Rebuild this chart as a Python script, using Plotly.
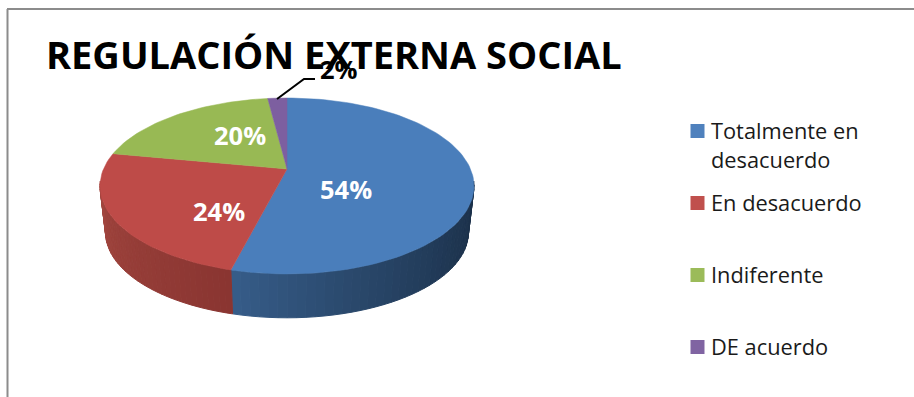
import math
import plotly.graph_objects as go

# Chart data
categories = ["Totalmente en desacuerdo", "En desacuerdo", "Indiferente", "DE acuerdo"]
legend_lines = [["Totalmente en", "desacuerdo"], ["En desacuerdo"], ["Indiferente"], ["DE acuerdo"]]
values = [54, 24, 20, 2]
labels = ["54%", "24%", "20%", "2%"]
colors = ["#4a7ebb", "#be4b48", "#98b954", "#7d5fa0"]
swatches = ["#4f81bd", "#c0504d", "#9bbb59", "#8064a2"]

# Perspective disc: a circle seen from above, projected to canvas pixels
CX, CY, AX, BY, K = 287.0, 169.0, 183.5, 84.7, 0.193
LOW_CY, LOW_SCALE = 216.0, 0.97


def project(theta, cy=CY, scale=1.0):
    u, v = math.sin(theta), math.cos(theta)
    d = 1 + K * v
    return CX + scale * AX * u / d, cy - scale * BY * v / d


def hex_rgb(h):
    return [int(h[i:i + 2], 16) for i in (1, 3, 5)]


def mix(c1, c2, f):
    a, b = hex_rgb(c1), hex_rgb(c2)
    return "rgb(%d,%d,%d)" % tuple(round(a[i] + (b[i] - a[i]) * f) for i in range(3))


fig = go.Figure()

total = sum(values)
fractions = [v / total for v in values]
edges = [0.0]
for f in fractions:
    edges.append(edges[-1] + f * 2 * math.pi)

# Side wall, drawn as thin shaded quads along the front of the disc.
# Shades run left to right on screen, so the blue wall darkens towards the right.
wall_shades = [("#1b3049", "#365c88"), ("#8a3531", "#a2463f")]
VISIBLE_FROM, VISIBLE_TO = math.radians(98), math.radians(262)
for i, (start_col, end_col) in enumerate(wall_shades):
    start = max(edges[i], VISIBLE_FROM)
    stop = min(edges[i + 1], VISIBLE_TO)
    steps = 40
    for s in range(steps):
        t0 = start + (stop - start) * s / steps
        t1 = start + (stop - start) * (s + 1) / steps
        x0, y0 = project(t0)
        x1, y1 = project(t1)
        x2, y2 = project(t1, LOW_CY, LOW_SCALE)
        x3, y3 = project(t0, LOW_CY, LOW_SCALE)
        frac = s / (steps - 1)
        col = mix(start_col, end_col, frac ** 1.5 if i == 0 else frac)
        fig.add_trace(go.Scatter(
            x=[x0, x1, x2, x3, x0], y=[y0, y1, y2, y3, y0],
            mode="lines", fill="toself", fillcolor=col,
            line=dict(color=col, width=1), hoverinfo="skip", showlegend=False))

# Top face of the pie, one sector per category
for i, name in enumerate(categories):
    n = max(4, int(fractions[i] * 180))
    pts = [project(edges[i] + (edges[i + 1] - edges[i]) * s / n) for s in range(n + 1)]
    xs = [CX] + [p[0] for p in pts] + [CX]
    ys = [CY] + [p[1] for p in pts] + [CY]
    fig.add_trace(go.Scatter(
        x=xs, y=ys, mode="lines", fill="toself", fillcolor=colors[i],
        line=dict(color=colors[i], width=0.5), name=name,
        hoverinfo="name", showlegend=False))

# Legend: square swatches with one text annotation per line
LEGEND_SWATCH_X, LEGEND_TEXT_X = 697.5, 708.5
LEGEND_ROWS_Y = [131, 203, 275, 347]
LEGEND_TEXT_DY = -1
LEGEND_LINE_STEP = 29
legend_font = dict(family="Open Sans", size=21.8, color="#1a1a1a")
for i, row_y in enumerate(LEGEND_ROWS_Y):
    fig.add_trace(go.Scatter(
        x=[LEGEND_SWATCH_X], y=[row_y], mode="markers", name=categories[i],
        marker=dict(symbol="square", size=14, color=swatches[i], line=dict(width=0)),
        hoverinfo="name", showlegend=False))
    for j, line in enumerate(legend_lines[i]):
        fig.add_annotation(x=LEGEND_TEXT_X, y=row_y + LEGEND_TEXT_DY + j * LEGEND_LINE_STEP,
                           text=line, xanchor="left", showarrow=False, font=legend_font)

# Value labels on the slices
label_font = dict(family="Open Sans", size=25.5, color="white", weight="bold")
label_pos = [(346, 189), (219, 211), (240, 135)]
for text, (x, y) in zip(labels[:3], label_pos):
    fig.add_annotation(x=x, y=y, text=text, showarrow=False, font=label_font)

# Title, then the outside label for the thin slice drawn over it
fig.add_annotation(x=334, y=54, text="REGULACIÓN EXTERNA SOCIAL", showarrow=False,
                   font=dict(family="Open Sans", size=38, color="black", weight="bold"))
fig.add_annotation(x=339, y=69, text=labels[3], showarrow=False,
                   font=dict(family="Open Sans", size=25.5, color="black", weight="bold"))
fig.add_trace(go.Scatter(x=[277, 304, 315], y=[99, 79, 79], mode="lines",
                         line=dict(color="black", width=2),
                         hoverinfo="skip", showlegend=False))

# Chart frame: only the left and top edges fall on the canvas
frame = dict(color="#8c8c8c", width=2)
fig.add_shape(type="line", x0=7.5, x1=7.5, y0=9, y1=397, line=frame)
fig.add_shape(type="line", x0=7, x1=914, y0=9, y1=9, line=frame)

fig.update_layout(
    width=914, height=397, margin=dict(l=0, r=0, t=0, b=0),
    paper_bgcolor="white", plot_bgcolor="white", showlegend=False,
    xaxis=dict(range=[0, 914], visible=False, fixedrange=True),
    yaxis=dict(range=[397, 0], visible=False, fixedrange=True),
)
fig.write_html("out.html")
